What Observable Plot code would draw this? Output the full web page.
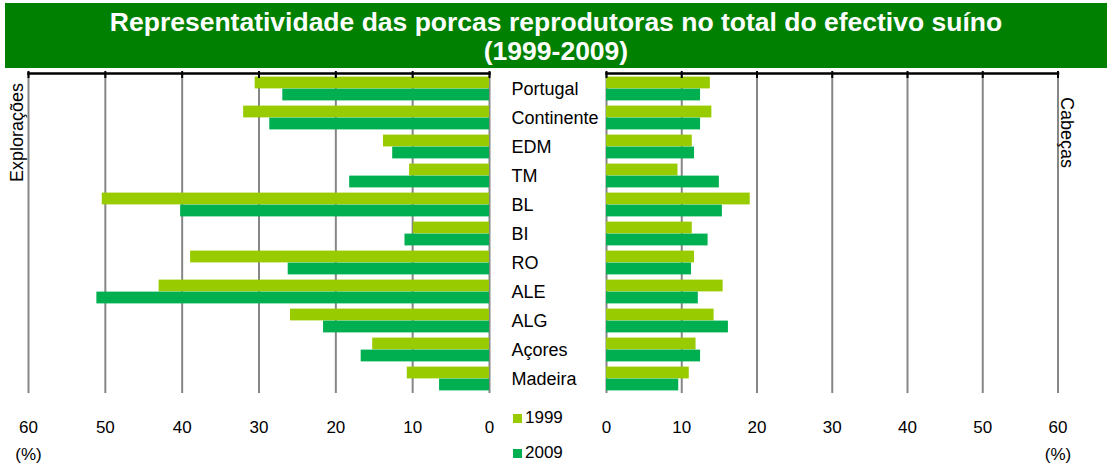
<!DOCTYPE html>
<html><head><meta charset="utf-8">
<script src="https://cdn.jsdelivr.net/npm/d3@7"></script>
<script src="https://cdn.jsdelivr.net/npm/@observablehq/plot@0.6"></script>
<style>
body{margin:0;background:#fff;font-family:"Liberation Sans",Arial,sans-serif;}
#wrap{position:relative;width:1109px;height:468px;overflow:hidden;background:#fff;}
#wrap svg{position:absolute;left:0;top:0;}
.banner{position:absolute;left:5px;top:3px;width:1102px;height:65px;background:#008000;color:#fff;font-weight:bold;font-size:26.5px;text-align:center;line-height:29px;padding-top:5px;box-sizing:border-box;}
.rot{position:absolute;white-space:nowrap;font-size:18px;color:#000;transform-origin:center;}
.leg{position:absolute;font-size:17px;color:#000;white-space:nowrap;}
.sw{position:absolute;width:9px;height:9px;}
</style>
</head><body>
<div id="wrap">
  <div class="banner" id="banner"></div>
</div>
<script>
const title1 = "Representatividade das porcas reprodutoras no total do efectivo suíno";
const title2 = "(1999-2009)";
const regions = ["Portugal","Continente","EDM","TM","BL","BI","RO","ALE","ALG","Açores","Madeira"];
const exploracoes1999 = [30.5,32.0,13.8,10.4,50.4,9.9,38.9,43.0,25.9,15.2,10.7];
const exploracoes2009 = [26.9,28.6,12.6,18.2,40.2,11.0,26.2,51.1,21.6,16.7,6.5];
const cabecas1999 = [13.8,14.0,11.4,9.5,19.1,11.4,11.7,15.5,14.3,11.9,11.0];
const cabecas2009 = [12.5,12.5,11.7,15.0,15.4,13.5,11.3,12.2,16.2,12.5,9.6];
const xTicks = [0,10,20,30,40,50,60];
const years = ["1999","2009"];
const colors = ["#99CC00","#00B050"];
const leftLabel = "Explorações";
const rightLabel = "Cabeças";
const unit = "(%)";

const wrap = document.getElementById("wrap");
document.getElementById("banner").innerHTML = title1 + "<br>" + title2;

function panel(v99, v09, {reverse, marginLeft, marginRight, showY}) {
  const rows = regions.map((r,i)=>({region:r, a:v99[i], b:v09[i]}));
  const marks = [
    Plot.gridX(xTicks, {stroke:"#868686", strokeOpacity:1, strokeWidth:2}),
    Plot.barX(rows, {x:"a", y:"region", fill:colors[0], insetTop:2.6, insetBottom:14.6}),
    Plot.barX(rows, {x:"b", y:"region", fill:colors[1], insetTop:14.6, insetBottom:2.6}),
    Plot.frame({anchor:"top", stroke:"#000", strokeWidth:2.5}),
    Plot.tickX(xTicks, {x:d=>d, y:()=>regions[0], insetTop:-3, insetBottom:25, stroke:"#000", strokeWidth:2}),
    Plot.axisX({anchor:"bottom", ticks:xTicks, tickSize:0, tickPadding:27, fontSize:17, label:null}),
    Plot.text([unit], {x:()=>60, frameAnchor:"bottom", dy:66, fontSize:17, fill:"#000"})
  ];
  if (showY) marks.push(Plot.axisY({anchor:"left", tickSize:0, tickPadding:95, textAnchor:"start", fontSize:18, label:null}));
  return Plot.plot({
    width:1109, height:468,
    marginTop:73, marginBottom:75, marginLeft, marginRight,
    style:{fontFamily:"Liberation Sans, Arial, sans-serif", color:"#000", background:"transparent", overflow:"visible"},
    x:{domain:[0,60], reverse, label:null},
    y:{domain:regions, type:"band", padding:0, axis: showY ? undefined : null, label:null},
    marks
  });
}

wrap.appendChild(panel(exploracoes1999, exploracoes2009, {reverse:true, marginLeft:28, marginRight:620, showY:false}));
wrap.appendChild(panel(cabecas1999, cabecas2009, {reverse:false, marginLeft:606, marginRight:51.5, showY:true}));

function addRot(text, cx, cy, deg) {
  const d = document.createElement("div");
  d.className = "rot"; d.textContent = text;
  wrap.appendChild(d);
  const w = d.offsetWidth, h = d.offsetHeight;
  d.style.left = (cx - w/2) + "px"; d.style.top = (cy - h/2) + "px";
  d.style.transform = `rotate(${deg}deg)`;
}
addRot(leftLabel, 17, 132, -90);
addRot(rightLabel, 1066, 132, 90);

years.forEach((y,i)=>{
  const top = i===0 ? 414 : 449;
  const s = document.createElement("div");
  s.className = "sw"; s.style.left="513px"; s.style.top=top+"px"; s.style.background=colors[i];
  wrap.appendChild(s);
  const t = document.createElement("div");
  t.className = "leg"; t.textContent = y; t.style.left="525px"; t.style.top=(top-6)+"px";
  wrap.appendChild(t);
});
</script>
</body></html>
